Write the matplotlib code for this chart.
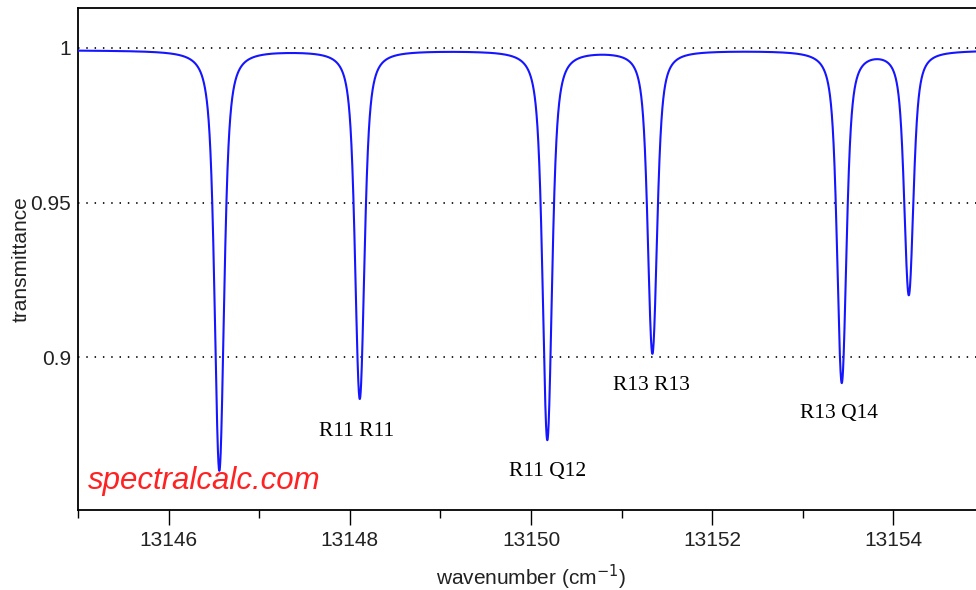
#! /usr/bin/env python3

import numpy as np
import matplotlib
matplotlib.use('Agg')
import matplotlib.pyplot as plt

# absorption lines
line_center = [13146.56, 13148.11, 13150.18, 13151.34, 13153.43, 13154.17]
line_min_transmittance = [0.864, 0.8873, 0.874, 0.902, 0.8926, 0.9211]
lorentz_halfwidth = 0.038   # cm-1
doppler_halfwidth = 0.036   # cm-1
continuum_transmittance = 0.9993

line_names = ['R11 R11', 'R11 Q12', 'R13 R13', 'R13 Q14']
name_x = [13148.08, 13150.18, 13151.33, 13153.40]
name_y = [0.8745, 0.8616, 0.8894, 0.8805]

x_major = [13146, 13148, 13150, 13152, 13154]
x_minor = [13145, 13147, 13149, 13151, 13153, 13155]
y_ticks = [0.9, 0.95, 1.0]
y_ticklabels = ['0.9', '0.95', '1']

plt.rcParams['font.family'] = ['Liberation Sans', 'DejaVu Sans']

# Voigt line shape = Lorentzian convolved with a Gaussian, peak set to 1
step = 0.001
wn = np.arange(13145, 13155 + step / 2, step)
u = np.arange(-3, 3 + step / 2, step)
lor = lorentz_halfwidth**2 / (u**2 + lorentz_halfwidth**2)
k = np.arange(-0.2, 0.2 + step / 2, step)
gau = np.exp(-np.log(2) * (k / doppler_halfwidth)**2)
voigt = np.convolve(lor, gau / gau.sum(), mode='same')
voigt /= voigt.max()

tau = np.full_like(wn, -np.log(continuum_transmittance))
for c, t in zip(line_center, line_min_transmittance):
    tau += -np.log(t) * np.interp(wn - c, u, voigt)
trans = np.exp(-tau)

fig = plt.figure(figsize=(9.76, 5.90), dpi=100)
ax = fig.add_axes([78 / 976, 80 / 590, 906 / 976, 502 / 590])

for y in y_ticks:
    ax.axhline(y, color='#111111', lw=1.3, ls=(0, (0.8, 3.8)), zorder=1)
ax.plot(wn, trans, color='#1515ff', lw=1.5, zorder=3)

for name, x, y in zip(line_names, name_x, name_y):
    ax.text(x, y, name, ha='center', va='baseline', fontsize=15.5,
            family=['Liberation Serif', 'DejaVu Serif'], color='black')
ax.text(13145.107, 0.8573, 'spectralcalc.com', ha='left', va='baseline',
        fontsize=22.5, style='italic', color='#ff2222')

ax.set_xlim(13145, 13155)
ax.set_ylim(0.8506, 1.0129)
ax.set_xticks(x_major)
ax.set_xticks(x_minor, minor=True)
ax.set_xticklabels([str(v) for v in x_major])
ax.set_yticks(y_ticks)
ax.set_yticklabels(y_ticklabels)
ax.tick_params(axis='x', which='major', direction='out', length=11,
               width=1.0, pad=4, labelsize=15, labelcolor='#222222')
ax.tick_params(axis='x', which='minor', direction='out', length=6,
               width=1.0)
ax.tick_params(axis='y', length=0, pad=5, labelsize=15,
               labelcolor='#222222')
for s in ax.spines.values():
    s.set_linewidth(1.3)

ax.set_xlabel('wavenumber (cm$^{-1}$)', fontsize=15, color='#222222')
ax.set_ylabel('transmittance', fontsize=15, color='#222222')
ax.xaxis.set_label_coords(0.5, -0.105)
ax.yaxis.set_label_coords(-0.052, 0.5)

fig.savefig('out.png', dpi=100)
